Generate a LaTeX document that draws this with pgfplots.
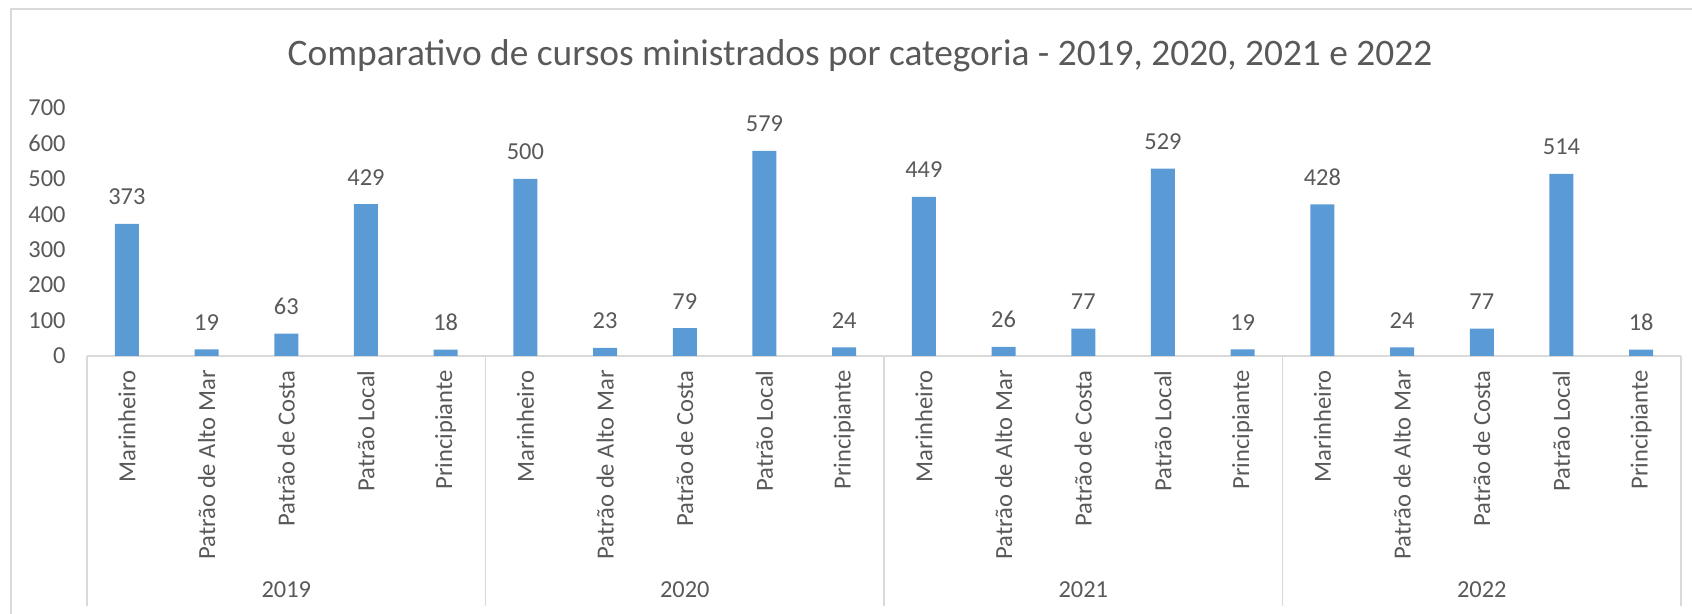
\documentclass[border=0pt]{standalone}
\usepackage{fontspec}
\setmainfont{Carlito}
\usepackage{pgfplots}
\pgfplotsset{compat=1.18}
\definecolor{barblue}{HTML}{5B9BD5}
\definecolor{txtgray}{HTML}{595959}
\definecolor{linegray}{HTML}{D9D9D9}
\begin{document}
\begin{tikzpicture}
\useasboundingbox (-43.5pt,-129pt) rectangle (802.5pt,178pt);
% chart area border (left and top visible)
\draw[linegray, line width=0.9pt] (-38pt,-140pt) -- (-38pt,173.5pt) -- (820pt,173.5pt);
\node[anchor=base, text=txtgray, font=\fontsize{18.7}{20}\selectfont] at (386.5pt,145pt)
  {Comparativo de cursos ministrados por categoria - 2019, 2020, 2021 e 2022};
\begin{axis}[
  at={(0pt,0pt)}, anchor=south west,
  scale only axis,
  width=797pt, height=124pt,
  xmin=-0.5, xmax=19.5,
  ymin=0, ymax=700,
  clip=false,
  axis x line*=bottom,
  axis y line*=left,
  y axis line style={draw=none},
  x axis line style={draw=linegray, line width=0.9pt, -},
  major tick length=0pt,
  ytick={0,100,...,700},
  yticklabel style={text=txtgray, font=\fontsize{12.2}{14}\selectfont, inner sep=0pt, xshift=-10.5pt, anchor=east},
  /pgf/number format/assume math mode=true,
  xtick={0,...,19},
  xticklabels={Marinheiro,Patrão de Alto Mar,Patrão de Costa,Patrão Local,Principiante,
               Marinheiro,Patrão de Alto Mar,Patrão de Costa,Patrão Local,Principiante,
               Marinheiro,Patrão de Alto Mar,Patrão de Costa,Patrão Local,Principiante,
               Marinheiro,Patrão de Alto Mar,Patrão de Costa,Patrão Local,Principiante},
  xticklabel style={rotate=90, anchor=east, inner sep=0pt, text=txtgray, font=\fontsize{12.3}{14}\selectfont},
  xticklabel shift=7pt,
  ybar, bar width=12pt,
  nodes near coords,
  every node near coord/.append style={text=txtgray, font=\fontsize{12.2}{14}\selectfont, anchor=base, yshift=9.5pt},
]
\addplot[fill=barblue, draw=none] coordinates {
  (0,373) (1,19) (2,63) (3,429) (4,18)
  (5,500) (6,23) (7,79) (8,579) (9,24)
  (10,449) (11,26) (12,77) (13,529) (14,19)
  (15,428) (16,24) (17,77) (18,514) (19,18)
};
\foreach \xs in {-0.5,4.5,9.5,14.5,19.5} {
  \edef\temp{\noexpand\draw[linegray, line width=0.9pt] (axis cs:\xs,0) -- ++(0pt,-125pt);}
  \temp
}
\node[text=txtgray, font=\fontsize{12.2}{14}\selectfont] at ([yshift=-117pt]axis cs:2,0) {2019};
\node[text=txtgray, font=\fontsize{12.2}{14}\selectfont] at ([yshift=-117pt]axis cs:7,0) {2020};
\node[text=txtgray, font=\fontsize{12.2}{14}\selectfont] at ([yshift=-117pt]axis cs:12,0) {2021};
\node[text=txtgray, font=\fontsize{12.2}{14}\selectfont] at ([yshift=-117pt]axis cs:17,0) {2022};
\end{axis}
\end{tikzpicture}
\end{document}
